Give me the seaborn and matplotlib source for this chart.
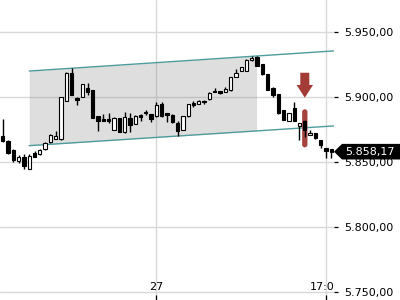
import numpy as np
import pandas as pd
import matplotlib
matplotlib.use("Agg")
import matplotlib.pyplot as plt
import seaborn as sns
from matplotlib.patches import Polygon, FancyBboxPatch
from matplotlib.transforms import blended_transform_factory

# ---------------- data ----------------
opens = [5870.2, 5866.4, 5859.5, 5851.2, 5854.3, 5844.9, 5857.4, 5856.4, 5860.0, 5865.9,
         5868.2, 5867.9, 5897.4, 5918.5, 5899.2, 5900.0, 5906.9, 5905.6, 5885.6, 5883.3,
         5883.1, 5874.9, 5883.9, 5873.1, 5883.9, 5879.2, 5886.4, 5888.5, 5887.2, 5885.6,
         5894.9, 5887.7, 5886.4, 5880.0, 5874.9, 5885.6, 5895.4, 5894.6, 5897.4, 5898.5,
         5904.9, 5904.9, 5903.9, 5905.4, 5915.9, 5920.2, 5920.5, 5928.7, 5931.2, 5925.4,
         5917.7, 5907.4, 5902.3, 5890.2, 5881.8, 5891.5, 5878.2, 5881.8, 5871.0, 5872.3,
         5867.2, 5860.8, 5860.2]
closes = [5866.4, 5857.2, 5851.8, 5854.3, 5847.2, 5855.1, 5854.3, 5859.5, 5864.6, 5870.8,
          5870.2, 5900.0, 5918.5, 5901.8, 5897.9, 5910.0, 5904.3, 5883.9, 5882.0, 5882.0,
          5882.0, 5884.3, 5873.5, 5884.6, 5878.7, 5885.9, 5885.1, 5887.7, 5883.1, 5894.1,
          5885.6, 5886.2, 5880.8, 5874.1, 5885.6, 5894.6, 5894.1, 5897.4, 5896.6, 5903.5,
          5903.9, 5903.1, 5906.6, 5915.4, 5918.5, 5923.1, 5928.7, 5930.5, 5924.3, 5917.7,
          5905.6, 5901.8, 5887.7, 5882.5, 5887.7, 5881.8, 5880.0, 5874.9, 5872.8, 5868.5,
          5863.3, 5858.7, 5858.17]
highs = [5883.3, 5867.2, 5860.2, 5855.6, 5856.4, 5856.4, 5858.7, 5860.6, 5865.6, 5871.8,
         5874.3, 5900.6, 5919.1, 5922.3, 5899.9, 5910.6, 5910.8, 5906.0, 5886.0, 5887.2,
         5888.2, 5884.9, 5884.1, 5888.5, 5887.7, 5886.4, 5886.8, 5890.2, 5887.5, 5896.2,
         5896.2, 5887.9, 5886.8, 5882.0, 5886.0, 5895.2, 5897.2, 5897.9, 5897.7, 5903.9,
         5907.4, 5905.2, 5907.7, 5915.6, 5921.8, 5923.3, 5929.1, 5931.4, 5932.0, 5925.6,
         5917.9, 5908.2, 5902.5, 5890.6, 5887.9, 5896.2, 5880.2, 5882.2, 5874.9, 5872.5,
         5867.5, 5861.0, 5860.6]
lows = [5865.6, 5856.4, 5850.2, 5849.5, 5844.9, 5844.5, 5854.1, 5855.6, 5859.5, 5865.2,
        5867.9, 5867.5, 5897.2, 5901.4, 5894.1, 5899.9, 5901.8, 5883.7, 5874.3, 5881.8,
        5880.5, 5874.5, 5873.3, 5872.9, 5873.1, 5879.1, 5882.0, 5886.4, 5881.2, 5885.2,
        5885.2, 5880.8, 5880.6, 5870.2, 5874.5, 5885.2, 5892.5, 5894.5, 5894.6, 5898.3,
        5903.7, 5902.9, 5903.7, 5905.2, 5915.6, 5919.9, 5920.2, 5928.3, 5924.1, 5917.5,
        5905.4, 5900.5, 5887.5, 5882.3, 5881.5, 5881.5, 5867.2, 5869.7, 5870.8, 5868.3,
        5861.2, 5853.1, 5853.3]

y_ticks = [5750, 5800, 5850, 5900, 5950]
x_tick_pos = [29, 61]
x_tick_labels = ["27", "17:00"]

# trend channel (candle index, price)
channel_x = [5.0, 62.5]
channel_top = [5920.2, 5935.7]
channel_bottom = [5862.8, 5878.0]
channel_fill_end = 47.9

# signal
signal_index = 57
signal_low = 5861.5
signal_high = 5890.8
arrow_top = 5918.9
arrow_base = 5909.5
arrow_tip = 5899.7

last_price = closes[-1]


def de(v):
    s = f"{v:,.2f}"
    return s.replace(",", "X").replace(".", ",").replace("X", ".")


# ---------------- plot ----------------
sns.set_style("white")
plt.rcParams["font.family"] = ["DejaVu Sans"]

fig = plt.figure(figsize=(4, 3), dpi=100)
ax = fig.add_axes([0, 0, 334 / 400, 1])

n = len(opens)
x = np.arange(n)
o = np.array(opens); c = np.array(closes)
h = np.array(highs); l = np.array(lows)

ax.set_xlim(-0.51, 62.51)
ax.set_ylim(5744.08, 5974.85)

for s in ax.spines.values():
    s.set_visible(False)

# grid
ax.set_yticks(y_ticks)
ax.set_yticklabels([de(v) for v in y_ticks])
ax.set_xticks(x_tick_pos)
ax.set_xticklabels([])
ax.grid(True, color="#d9d9d9", lw=1)
ax.set_axisbelow(True)
ax.yaxis.tick_right()
ax.tick_params(axis="y", direction="out", length=3, width=0.9, pad=4,
               labelsize=8, colors="black", right=True, left=False)
ax.tick_params(axis="x", direction="in", length=3.5, width=0.9,
               bottom=True, colors="black")

tx = blended_transform_factory(ax.transData, ax.transAxes)
for xp, lab in zip(x_tick_pos, x_tick_labels):
    ax.text(xp, 0.043, lab, transform=tx, ha="center", va="center",
            fontsize=8, color="black", clip_on=True)

# channel
xf = np.array([channel_x[0], channel_fill_end])
ax.fill_between(xf, np.interp(xf, channel_x, channel_bottom),
                np.interp(xf, channel_x, channel_top),
                color="#808080", alpha=0.26, lw=0, zorder=1)
ch = pd.DataFrame({
    "x": channel_x + channel_x,
    "price": channel_top + channel_bottom,
    "line": ["top", "top", "bottom", "bottom"],
})
sns.lineplot(data=ch, x="x", y="price", units="line", estimator=None,
             color="#4f9b9b", lw=1, ax=ax, zorder=2, legend=False)
ax.set_xlabel(""); ax.set_ylabel("")

# signal highlight
hl = FancyBboxPatch((signal_index - 0.5, signal_low), 1.0, signal_high - signal_low,
                    boxstyle="round,pad=0,rounding_size=0.5", mutation_aspect=4,
                    fc="#a5443f", ec="none", zorder=2.5)
ax.add_patch(hl)

# candles
ax.vlines(x, l, h, color="black", lw=1, zorder=3)
bottoms = np.minimum(o, c)
heights = np.maximum(np.abs(c - o), 0.8)
faces = ["white" if cc > oo else "black" for oo, cc in zip(o, c)]
ax.bar(x, heights, bottom=bottoms, width=0.62, color=faces,
       edgecolor="black", lw=0.8, zorder=4)

# arrow
cx = signal_index
arrow = Polygon([(cx - 0.85, arrow_top), (cx + 0.85, arrow_top), (cx + 0.85, arrow_base),
                 (cx + 1.55, arrow_base), (cx, arrow_tip), (cx - 1.55, arrow_base),
                 (cx - 0.85, arrow_base)], closed=True, fc="#a33b36", ec="none", zorder=5)
ax.add_patch(arrow)

# last price label
tr = blended_transform_factory(fig.transFigure, ax.transData)
lab = Polygon([(0.835, last_price), (0.855, last_price + 6), (1.0, last_price + 6),
               (1.0, last_price - 6), (0.855, last_price - 6)], closed=True,
              transform=tr, fc="black", ec="none", clip_on=False, zorder=10)
ax.add_patch(lab)
ax.text(0.8625, last_price, de(last_price), transform=tr, color="white",
        fontsize=8, ha="left", va="center", clip_on=False, zorder=11)

fig.savefig("out.png", dpi=100)
